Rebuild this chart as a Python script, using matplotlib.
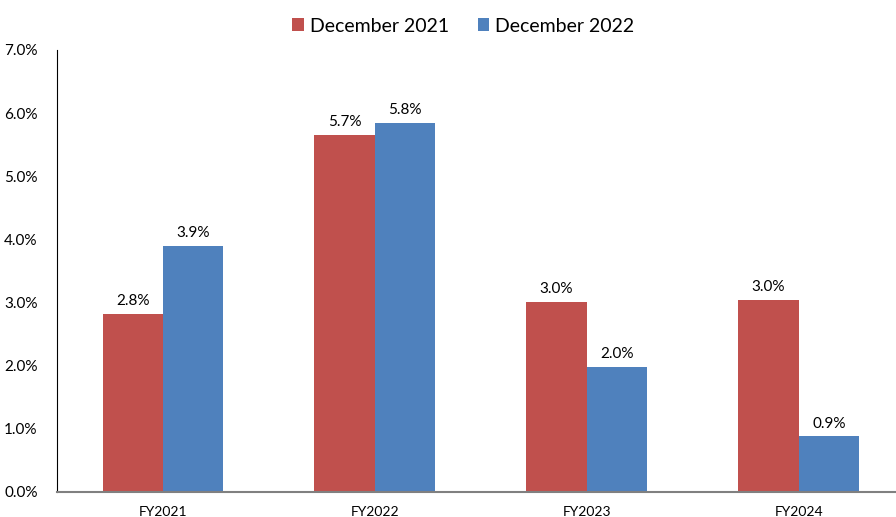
import matplotlib.pyplot as plt
import numpy as np

plt.rcParams['font.family'] = ['Lato', 'DejaVu Sans']

years = ['FY2021', 'FY2022', 'FY2023', 'FY2024']
dec_2021 = [2.82, 5.66, 3.01, 3.04]
dec_2022 = [3.90, 5.85, 1.98, 0.88]

red = '#C0504D'
blue = '#4F81BD'

fig = plt.figure(figsize=(8.96, 5.17), dpi=100)
ax = fig.add_axes([0.0636, 0.0484, 0.946, 0.855])

x = np.arange(len(years))
w = 0.285
b1 = ax.bar(x - w / 2, dec_2021, w, color=red, label='December 2021')
b2 = ax.bar(x + w / 2, dec_2022, w, color=blue, label='December 2022')

for bars in (b1, b2):
    for bar in bars:
        h = bar.get_height()
        ax.annotate(f'{h:.1f}%', (bar.get_x() + bar.get_width() / 2, h),
                    xytext=(0, 4), textcoords='offset points',
                    ha='center', va='bottom', fontsize=11)

ax.set_xlim(-0.5, 3.5)
ax.set_ylim(0, 7)
ax.set_yticks(np.arange(0, 8, 1))
ax.set_yticklabels([f'{v:.1f}%' for v in range(8)], fontsize=11)
ax.set_xticks(x)
ax.set_xticklabels(years, fontsize=10)
ax.tick_params(length=0)
ax.tick_params(axis='y', pad=14)
ax.tick_params(axis='x', pad=10)

for s in ('top', 'right'):
    ax.spines[s].set_visible(False)
ax.spines['left'].set_color('black')
ax.spines['bottom'].set_color('#808080')
ax.spines['bottom'].set_linewidth(1.5)

fig.legend(loc='upper center', bbox_to_anchor=(0.517, 1.0), ncol=2,
           frameon=False, fontsize=14, handlelength=0.6, handleheight=0.6,
           handletextpad=0.3, columnspacing=1.5)

fig.savefig('out.png', dpi=100)
